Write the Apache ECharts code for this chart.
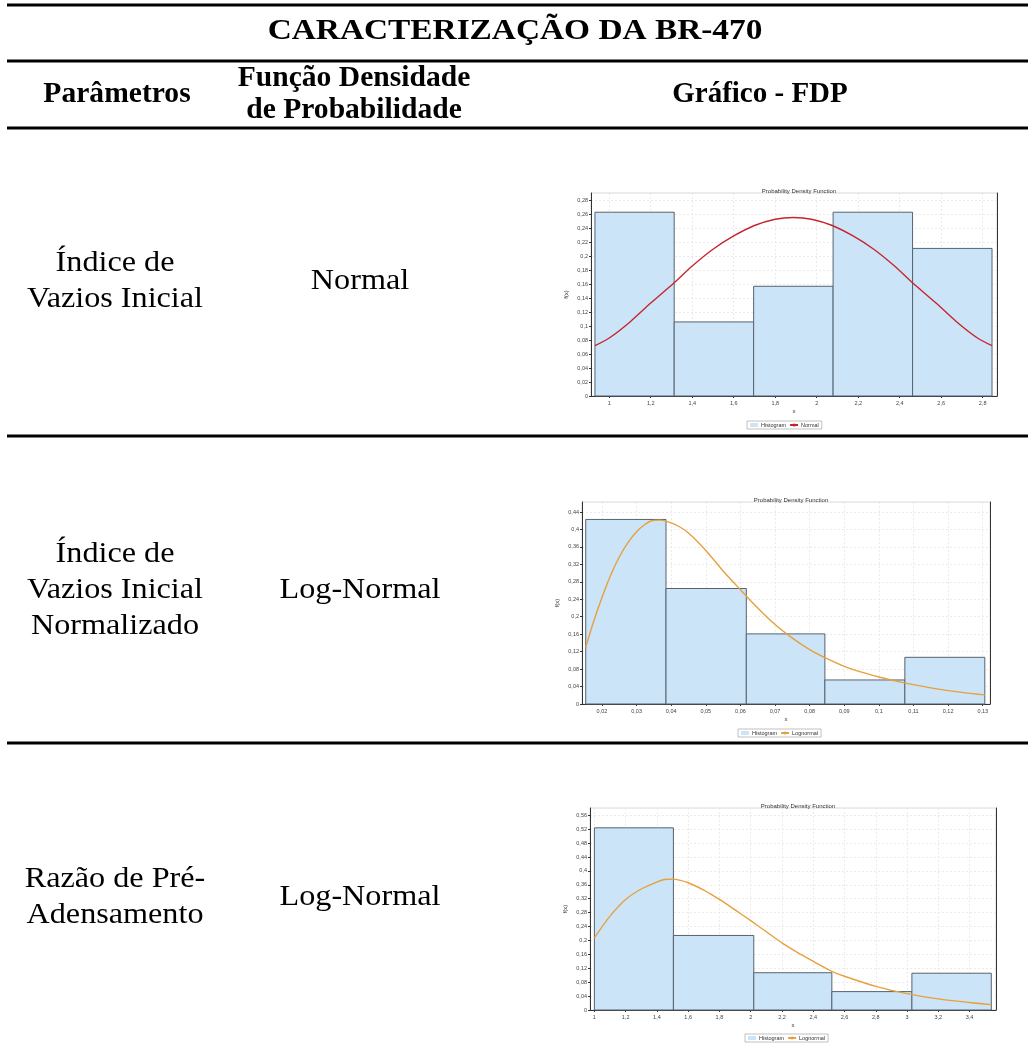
<!DOCTYPE html>
<html>
<head>
<meta charset="utf-8">
<script src="https://cdn.jsdelivr.net/npm/echarts@6/dist/echarts.min.js"></script>
<style>html,body{margin:0;padding:0;background:#fff;}#c{width:1028px;height:1043px;}</style>
</head>
<body>
<div id="c"></div>
<script>
// ---------- Data ----------
const tableTitle = 'CARACTERIZAÇÃO DA BR-470';
const headers = ['Parâmetros', 'Função Densidade\nde Probabilidade', 'Gráfico - FDP'];
const paramNames = ['Índice de\nVazios Inicial', 'Índice de\nVazios Inicial\nNormalizado', 'Razão de Pré-\nAdensamento'];
const distNames = ['Normal', 'Log-Normal', 'Log-Normal'];
const curveNames = ['Normal', 'Lognormal', 'Lognormal'];

// Chart 1 - Normal
const hist1Edges = [0.931, 1.313, 1.696, 2.079, 2.462, 2.845];
const hist1Heights = [0.263, 0.106, 0.157, 0.263, 0.2112];
const curve1X = [0.931, 1.0, 1.1, 1.2, 1.313, 1.4, 1.5, 1.6, 1.7, 1.8, 1.888, 1.975, 2.075, 2.175, 2.275, 2.375, 2.462, 2.575, 2.675, 2.775, 2.845];
const curve1Y = [0.072, 0.083, 0.106, 0.133, 0.162, 0.186, 0.210, 0.229, 0.244, 0.253, 0.2555, 0.253, 0.244, 0.229, 0.210, 0.186, 0.162, 0.133, 0.106, 0.083, 0.072];
const x1Ticks = [1, 1.2, 1.4, 1.6, 1.8, 2, 2.2, 2.4, 2.6, 2.8];
const y1Ticks = [0, 0.02, 0.04, 0.06, 0.08, 0.1, 0.12, 0.14, 0.16, 0.18, 0.2, 0.22, 0.24, 0.26, 0.28];

// Chart 2 - Lognormal
const hist2Edges = [0.0153, 0.0385, 0.0617, 0.0844, 0.1075, 0.1306];
const hist2Heights = [0.423, 0.2647, 0.1607, 0.0551, 0.107];
const curve2X = [0.0153, 0.0175, 0.02, 0.0225, 0.025, 0.0275, 0.03, 0.0325, 0.0343, 0.0365, 0.0385, 0.042, 0.045, 0.05, 0.055, 0.06, 0.065, 0.07, 0.075, 0.08, 0.085, 0.09, 0.095, 0.1, 0.105, 0.11, 0.115, 0.12, 0.125, 0.13, 0.1306];
const curve2Y = [0.130, 0.187, 0.244, 0.295, 0.337, 0.370, 0.395, 0.412, 0.420, 0.4215, 0.419, 0.408, 0.392, 0.352, 0.305, 0.262, 0.220, 0.182, 0.151, 0.1247, 0.104, 0.0864, 0.073, 0.062, 0.0525, 0.0444, 0.037, 0.0306, 0.0255, 0.0214, 0.0208];
const x2Ticks = [0.02, 0.03, 0.04, 0.05, 0.06, 0.07, 0.08, 0.09, 0.1, 0.11, 0.12, 0.13];
const y2Ticks = [0, 0.04, 0.08, 0.12, 0.16, 0.2, 0.24, 0.28, 0.32, 0.36, 0.4, 0.44];

// Chart 3 - Lognormal
const hist3Edges = [1.0, 1.5056, 2.0197, 2.519, 3.031, 3.539];
const hist3Heights = [0.524, 0.2144, 0.1072, 0.0529, 0.1058];
const curve3X = [1.0, 1.1, 1.2, 1.3, 1.4, 1.45, 1.5, 1.55, 1.6, 1.7, 1.8, 1.9, 2.0, 2.1, 2.2, 2.3, 2.4, 2.519, 2.6, 2.8, 3.0, 3.2, 3.4, 3.539];
const curve3Y = [0.2077, 0.270, 0.318, 0.348, 0.368, 0.3755, 0.3765, 0.373, 0.366, 0.345, 0.318, 0.288, 0.257, 0.225, 0.193, 0.165, 0.140, 0.111, 0.097, 0.068, 0.047, 0.032, 0.0215, 0.0155];
const x3Ticks = [1, 1.2, 1.4, 1.6, 1.8, 2, 2.2, 2.4, 2.6, 2.8, 3, 3.2, 3.4];
const y3Ticks = [0, 0.04, 0.08, 0.12, 0.16, 0.2, 0.24, 0.28, 0.32, 0.36, 0.4, 0.44, 0.48, 0.52, 0.56];

const charts = [
  {edges: hist1Edges, heights: hist1Heights, cx: curve1X, cy: curve1Y, xt: x1Ticks, yt: y1Ticks,
   xmin: 0.912, xmax: 2.869, ymax: 0.2905, grid: {left: 591, top: 193, width: 406, height: 203},
   color: '#c4262e', legendLeft: 747, legendTop: 421},
  {edges: hist2Edges, heights: hist2Heights, cx: curve2X, cy: curve2Y, xt: x2Ticks, yt: y2Ticks,
   xmin: 0.01423, xmax: 0.1321, ymax: 0.463, grid: {left: 582, top: 502, width: 408, height: 202},
   color: '#e6a03c', legendLeft: 738, legendTop: 729},
  {edges: hist3Edges, heights: hist3Heights, cx: curve3X, cy: curve3Y, xt: x3Ticks, yt: y3Ticks,
   xmin: 0.972, xmax: 3.569, ymax: 0.581, grid: {left: 590, top: 808, width: 406, height: 202},
   color: '#e6a03c', legendLeft: 745, legendTop: 1034}
];

// ---------- Build ----------
const fmt = v => String(v).replace('.', ',');
const SERIF = '"Liberation Serif", "Times New Roman", serif';
const SANS = 'Arial, "Liberation Sans", sans-serif';

const grids = [], xAxes = [], yAxes = [], series = [], titles = [], legends = [];
charts.forEach((c, i) => {
  grids.push(Object.assign({show: true, borderColor: '#d8d8d8', borderWidth: 1, backgroundColor: '#fff'}, c.grid));
  titles.push({text: 'Probability Density Function', left: c.grid.left + c.grid.width / 2, top: c.grid.top - 10,
    textAlign: 'center', textStyle: {fontSize: 6, fontWeight: 'normal', color: '#333', fontFamily: SANS}});
  xAxes.push({type: 'value', gridIndex: i, min: c.xmin, max: c.xmax, name: 'x', nameLocation: 'middle', nameGap: 12,
    nameTextStyle: {fontSize: 6, color: '#333', fontFamily: SANS},
    axisLine: {lineStyle: {color: '#333', width: 1}},
    axisTick: {show: true, length: 2, customValues: c.xt, lineStyle: {color: '#333'}},
    axisLabel: {fontSize: 5.5, color: '#444', margin: 4, fontFamily: SANS, customValues: c.xt, formatter: fmt},
    splitLine: {show: true, lineStyle: {color: '#e6e6e6', width: 0.8, type: [2, 2]}}});
  yAxes.push({type: 'value', gridIndex: i, min: 0, max: c.ymax, name: 'f(x)', nameLocation: 'middle', nameGap: 22, nameRotate: 90,
    nameTextStyle: {fontSize: 6, color: '#333', fontFamily: SANS},
    axisLine: {show: true, lineStyle: {color: '#333', width: 1}},
    axisTick: {show: true, length: 2, customValues: c.yt, lineStyle: {color: '#333'}},
    axisLabel: {fontSize: 5.5, color: '#444', margin: 3, fontFamily: SANS, customValues: c.yt, formatter: fmt},
    splitLine: {show: true, lineStyle: {color: '#e6e6e6', width: 0.8, type: [2, 2]}}});
  yAxes.push({type: 'value', gridIndex: i, min: 0, max: c.ymax, position: 'right',
    axisLine: {show: true, lineStyle: {color: '#333', width: 1}}, axisTick: {show: false}, axisLabel: {show: false}, splitLine: {show: false}});
  const histData = c.heights.map((h, k) => [c.edges[k], c.edges[k + 1], h]);
  series.push({type: 'custom', name: 'Histogram', xAxisIndex: i, yAxisIndex: 2 * i,
    encode: {x: [0, 1], y: 2}, data: histData,
    itemStyle: {color: '#cce4f8', borderColor: '#56636f'},
    renderItem: (params, api) => {
      const a = api.coord([api.value(0), api.value(2)]);
      const b = api.coord([api.value(1), 0]);
      return {type: 'rect', shape: {x: a[0], y: a[1], width: b[0] - a[0], height: b[1] - a[1]},
        style: {fill: '#cce4f8', stroke: '#56636f', lineWidth: 1}};
    }, z: 2});
  series.push({type: 'line', name: curveNames[i], xAxisIndex: i, yAxisIndex: 2 * i, smooth: 0.3, symbol: 'none', showSymbol: false,
    data: c.cx.map((x, k) => [x, c.cy[k]]), lineStyle: {color: c.color, width: 1.4}, itemStyle: {color: c.color}, z: 3});
  legends.push({left: c.legendLeft, top: c.legendTop, orient: 'horizontal', padding: [1, 3], itemGap: 3,
    itemWidth: 8, itemHeight: 4, borderColor: '#999', borderWidth: 0.6, selectedMode: false,
    textStyle: {fontSize: 5.5, color: '#333', fontFamily: SANS, padding: [0, 0, 0, -2]},
    data: [{name: 'Histogram', icon: 'rect'}, {name: curveNames[i]}]});
});

// Table graphics
const graphic = [];
[5, 61, 128, 436, 743].forEach(y => graphic.push({type: 'line', shape: {x1: 7, y1: y, x2: 1028, y2: y}, style: {stroke: '#000', lineWidth: 3}, silent: true}));
function txt(text, x, y, bold, size, lh, sx) {
  graphic.push({type: 'text', x: x, y: y, scaleX: sx, silent: true,
    style: {text: text, fill: '#000', font: (bold ? 'bold ' : '') + size + 'px ' + SERIF,
      lineHeight: lh, align: 'center', verticalAlign: 'middle', textAlign: 'center', textVerticalAlign: 'middle'}});
}
txt(tableTitle, 515, 32, true, 29, 32, 1.15);
txt(headers[0], 117, 95, true, 29, 32, 1.02);
txt(headers[1], 354, 95, true, 29, 32, 1.02);
txt(headers[2], 760, 95, true, 29, 32, 1.0);
const rowCenters = [281, 590, 897];
paramNames.forEach((t, i) => txt(t, 115, rowCenters[i], false, 29, 36, 1.11));
distNames.forEach((t, i) => txt(t, 360, rowCenters[i], false, 29, 36, 1.11));

const chart = echarts.init(document.getElementById('c'));
chart.setOption({
  backgroundColor: '#fff', animation: false,
  title: titles, legend: legends, grid: grids, xAxis: xAxes, yAxis: yAxes, series: series, graphic: graphic
});
</script>
</body>
</html>
